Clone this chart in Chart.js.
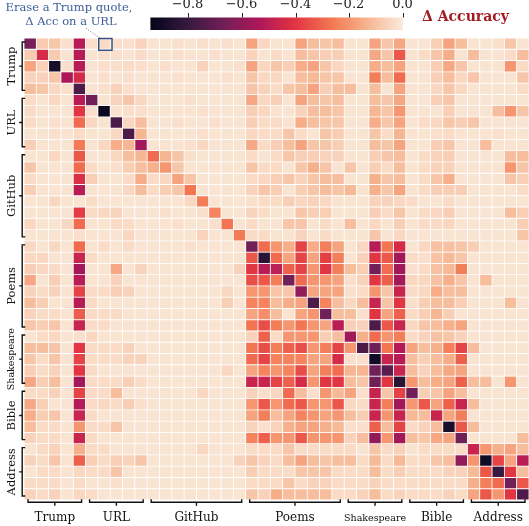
<!DOCTYPE html>
<html><head><meta charset="utf-8">
<script src="https://cdn.jsdelivr.net/npm/chart.js@4.4.0/dist/chart.umd.min.js"></script>
<style>html,body{margin:0;padding:0;background:#fff;}canvas{display:block;}</style>
</head><body>
<canvas id="c" width="529" height="526"></canvas>
<script>
// ---------------- DATA ----------------
const groupNames = ['Trump', 'URL', 'GitHub', 'Poems', 'Shakespeare', 'Bible', 'Address'];

const trumpRows = [
[-0.66,-0.08,-0.09,-0.03,-0.51,-0.03,-0.04,-0.03,-0.03,-0.06,-0.02,-0.02,-0.03,-0.02,-0.03,-0.02,-0.03,-0.02,-0.17,-0.05,-0.02,-0.02,-0.17,-0.11,-0.09,-0.11,-0.02,-0.02,-0.17,-0.09,-0.16,-0.02,-0.02,-0.07,-0.17,-0.11,-0.02,-0.02,-0.03,-0.09,-0.02],
[-0.08,-0.44,-0.08,-0.02,-0.51,-0.02,-0.03,-0.03,-0.02,-0.04,-0.02,-0.02,-0.03,-0.02,-0.02,-0.03,-0.02,-0.02,-0.06,-0.02,-0.04,-0.02,-0.11,-0.09,-0.07,-0.07,-0.02,-0.02,-0.16,-0.09,-0.33,-0.02,-0.04,-0.09,-0.15,-0.02,-0.11,-0.02,-0.02,-0.04,-0.11],
[-0.17,-0.06,-0.88,-0.03,-0.51,-0.02,-0.03,-0.03,-0.04,-0.03,-0.02,-0.03,-0.02,-0.02,-0.06,-0.02,-0.02,-0.03,-0.17,-0.05,-0.09,-0.07,-0.15,-0.17,-0.09,-0.05,-0.02,-0.02,-0.15,-0.11,-0.17,-0.02,-0.02,-0.07,-0.16,-0.09,-0.02,-0.02,-0.02,-0.20,-0.04],
[-0.06,-0.06,-0.09,-0.54,-0.44,-0.02,-0.03,-0.02,-0.03,-0.02,-0.02,-0.02,-0.03,-0.02,-0.02,-0.02,-0.03,-0.02,-0.09,-0.05,-0.05,-0.02,-0.11,-0.12,-0.09,-0.09,-0.02,-0.02,-0.25,-0.11,-0.29,-0.02,-0.02,-0.07,-0.11,-0.05,-0.09,-0.02,-0.02,-0.02,-0.09],
[-0.11,-0.09,-0.05,-0.03,-0.75,-0.02,-0.03,-0.06,-0.03,-0.02,-0.02,-0.02,-0.02,-0.02,-0.02,-0.02,-0.02,-0.02,-0.09,-0.06,-0.04,-0.09,-0.11,-0.17,-0.07,-0.11,-0.11,-0.02,-0.11,-0.02,-0.17,-0.02,-0.02,-0.05,-0.09,-0.05,-0.02,-0.02,-0.02,-0.02,-0.04]
];
const urlRows = [
[-0.04,-0.02,-0.05,-0.02,-0.51,-0.67,-0.02,-0.06,-0.09,-0.05,-0.02,-0.02,-0.02,-0.03,-0.02,-0.02,-0.02,-0.02,-0.16,-0.05,-0.07,-0.02,-0.17,-0.11,-0.09,-0.11,-0.02,-0.02,-0.11,-0.09,-0.16,-0.02,-0.02,-0.07,-0.09,-0.02,-0.02,-0.02,-0.02,-0.02,-0.02],
[-0.04,-0.02,-0.02,-0.02,-0.40,-0.03,-0.92,-0.02,-0.03,-0.03,-0.02,-0.02,-0.02,-0.02,-0.03,-0.02,-0.02,-0.02,-0.07,-0.05,-0.02,-0.02,-0.06,-0.11,-0.11,-0.09,-0.02,-0.02,-0.13,-0.09,-0.20,-0.02,-0.02,-0.02,-0.07,-0.02,-0.02,-0.02,-0.11,-0.20,-0.09],
[-0.04,-0.02,-0.03,-0.02,-0.29,-0.05,-0.02,-0.75,-0.05,-0.11,-0.02,-0.02,-0.03,-0.02,-0.02,-0.03,-0.02,-0.02,-0.07,-0.04,-0.04,-0.02,-0.15,-0.11,-0.09,-0.09,-0.02,-0.02,-0.15,-0.09,-0.17,-0.02,-0.04,-0.05,-0.09,-0.07,-0.09,-0.02,-0.02,-0.02,-0.02],
[-0.02,-0.02,-0.03,-0.02,-0.04,-0.02,-0.02,-0.05,-0.75,-0.13,-0.02,-0.02,-0.02,-0.02,-0.03,-0.02,-0.02,-0.02,-0.05,-0.04,-0.04,-0.09,-0.04,-0.02,-0.09,-0.07,-0.02,-0.02,-0.09,-0.04,-0.13,-0.02,-0.02,-0.03,-0.04,-0.02,-0.02,-0.02,-0.03,-0.02,-0.02],
[-0.07,-0.02,-0.02,-0.02,-0.26,-0.02,-0.05,-0.15,-0.13,-0.56,-0.02,-0.02,-0.02,-0.03,-0.05,-0.02,-0.02,-0.02,-0.16,-0.04,-0.07,-0.11,-0.17,-0.09,-0.09,-0.07,-0.02,-0.02,-0.11,-0.09,-0.17,-0.02,-0.02,-0.07,-0.09,-0.02,-0.02,-0.11,-0.02,-0.02,-0.02]
];
const githubRows = [
[-0.02,-0.02,-0.05,-0.02,-0.33,-0.02,-0.02,-0.05,-0.11,-0.13,-0.29,-0.13,-0.09,-0.03,-0.02,-0.02,-0.02,-0.02,-0.04,-0.02,-0.04,-0.09,-0.07,-0.07,-0.06,-0.06,-0.02,-0.02,-0.07,-0.09,-0.11,-0.02,-0.04,-0.06,-0.07,-0.02,-0.02,-0.02,-0.02,-0.11,-0.11],
[-0.09,-0.02,-0.02,-0.02,-0.29,-0.04,-0.02,-0.03,-0.07,-0.11,-0.14,-0.20,-0.09,-0.02,-0.02,-0.02,-0.02,-0.02,-0.09,-0.04,-0.04,-0.02,-0.09,-0.14,-0.09,-0.02,-0.09,-0.02,-0.07,-0.04,-0.11,-0.02,-0.04,-0.06,-0.06,-0.02,-0.02,-0.02,-0.02,-0.20,-0.09],
[-0.04,-0.02,-0.02,-0.02,-0.42,-0.07,-0.02,-0.02,-0.04,-0.15,-0.04,-0.05,-0.17,-0.09,-0.02,-0.02,-0.02,-0.02,-0.04,-0.05,-0.07,-0.09,-0.06,-0.09,-0.11,-0.11,-0.02,-0.02,-0.14,-0.09,-0.11,-0.02,-0.04,-0.09,-0.14,-0.02,-0.02,-0.02,-0.02,-0.09,-0.07],
[-0.07,-0.02,-0.02,-0.02,-0.51,-0.02,-0.02,-0.02,-0.05,-0.11,-0.04,-0.07,-0.09,-0.27,-0.02,-0.02,-0.02,-0.02,-0.06,-0.09,-0.07,-0.02,-0.07,-0.09,-0.11,-0.09,-0.12,-0.02,-0.14,-0.09,-0.17,-0.02,-0.04,-0.07,-0.07,-0.07,-0.02,-0.02,-0.02,-0.02,-0.04],
[-0.02,-0.02,-0.05,-0.02,-0.02,-0.04,-0.02,-0.02,-0.02,-0.02,-0.02,-0.02,-0.02,-0.05,-0.25,-0.02,-0.02,-0.02,-0.03,-0.04,-0.04,-0.07,-0.05,-0.06,-0.05,-0.02,-0.02,-0.02,-0.06,-0.06,-0.05,-0.04,-0.02,-0.02,-0.04,-0.02,-0.02,-0.02,-0.02,-0.02,-0.02],
[-0.02,-0.02,-0.02,-0.02,-0.39,-0.04,-0.05,-0.06,-0.02,-0.02,-0.02,-0.03,-0.02,-0.02,-0.03,-0.24,-0.02,-0.02,-0.06,-0.04,-0.02,-0.02,-0.09,-0.07,-0.07,-0.02,-0.02,-0.02,-0.07,-0.04,-0.09,-0.02,-0.04,-0.05,-0.07,-0.02,-0.02,-0.02,-0.02,-0.11,-0.07],
[-0.05,-0.02,-0.02,-0.05,-0.29,-0.02,-0.02,-0.04,-0.04,-0.02,-0.02,-0.02,-0.03,-0.02,-0.02,-0.03,-0.27,-0.02,-0.04,-0.02,-0.02,-0.09,-0.09,-0.02,-0.04,-0.02,-0.11,-0.02,-0.05,-0.02,-0.07,-0.02,-0.04,-0.04,-0.05,-0.02,-0.02,-0.02,-0.02,-0.02,-0.07],
[-0.02,-0.02,-0.02,-0.02,-0.03,-0.02,-0.02,-0.02,-0.05,-0.02,-0.02,-0.02,-0.02,-0.02,-0.06,-0.02,-0.02,-0.26,-0.04,-0.04,-0.02,-0.02,-0.06,-0.02,-0.04,-0.02,-0.02,-0.02,-0.09,-0.02,-0.05,-0.02,-0.02,-0.02,-0.02,-0.02,-0.02,-0.02,-0.02,-0.02,-0.09]
];
const poemsRows = [
[-0.05,-0.02,-0.05,-0.02,-0.29,-0.02,-0.04,-0.02,-0.04,-0.02,-0.02,-0.02,-0.02,-0.03,-0.02,-0.02,-0.02,-0.02,-0.67,-0.29,-0.20,-0.15,-0.37,-0.15,-0.25,-0.17,-0.02,-0.05,-0.51,-0.27,-0.44,-0.02,-0.05,-0.10,-0.10,-0.09,-0.07,-0.02,-0.02,-0.02,-0.02],
[-0.05,-0.05,-0.02,-0.02,-0.47,-0.04,-0.02,-0.02,-0.02,-0.02,-0.02,-0.02,-0.02,-0.02,-0.02,-0.02,-0.02,-0.02,-0.33,-0.84,-0.29,-0.17,-0.37,-0.17,-0.38,-0.25,-0.02,-0.06,-0.40,-0.33,-0.56,-0.04,-0.03,-0.10,-0.12,-0.09,-0.02,-0.02,-0.02,-0.02,-0.02],
[-0.07,-0.05,-0.04,-0.02,-0.56,-0.02,-0.02,-0.16,-0.02,-0.06,-0.02,-0.02,-0.02,-0.02,-0.02,-0.02,-0.02,-0.06,-0.40,-0.51,-0.50,-0.31,-0.37,-0.20,-0.40,-0.25,-0.11,-0.07,-0.67,-0.29,-0.56,-0.03,-0.04,-0.10,-0.12,-0.25,-0.02,-0.02,-0.02,-0.02,-0.02],
[-0.16,-0.02,-0.07,-0.02,-0.51,-0.02,-0.02,-0.06,-0.02,-0.02,-0.02,-0.02,-0.02,-0.02,-0.02,-0.02,-0.02,-0.02,-0.35,-0.33,-0.25,-0.67,-0.29,-0.20,-0.20,-0.17,-0.03,-0.06,-0.40,-0.31,-0.56,-0.05,-0.05,-0.10,-0.14,-0.09,-0.02,-0.11,-0.02,-0.02,-0.02],
[-0.06,-0.04,-0.06,-0.02,-0.37,-0.04,-0.04,-0.07,-0.06,-0.02,-0.02,-0.02,-0.02,-0.02,-0.02,-0.02,-0.05,-0.02,-0.20,-0.20,-0.09,-0.09,-0.60,-0.17,-0.17,-0.17,-0.03,-0.04,-0.20,-0.09,-0.47,-0.04,-0.05,-0.15,-0.11,-0.11,-0.02,-0.02,-0.02,-0.02,-0.02],
[-0.11,-0.07,-0.02,-0.02,-0.51,-0.04,-0.02,-0.02,-0.02,-0.02,-0.02,-0.02,-0.02,-0.02,-0.02,-0.02,-0.07,-0.02,-0.24,-0.24,-0.11,-0.15,-0.17,-0.75,-0.24,-0.11,-0.05,-0.11,-0.47,-0.09,-0.40,-0.03,-0.07,-0.11,-0.11,-0.07,-0.02,-0.02,-0.02,-0.11,-0.02],
[-0.06,-0.04,-0.04,-0.02,-0.32,-0.04,-0.04,-0.04,-0.02,-0.02,-0.02,-0.02,-0.02,-0.02,-0.02,-0.02,-0.02,-0.02,-0.17,-0.22,-0.11,-0.02,-0.17,-0.20,-0.67,-0.11,-0.11,-0.03,-0.40,-0.17,-0.31,-0.04,-0.07,-0.13,-0.07,-0.02,-0.02,-0.02,-0.02,-0.02,-0.02],
[-0.09,-0.07,-0.09,-0.02,-0.47,-0.04,-0.04,-0.02,-0.02,-0.02,-0.02,-0.02,-0.02,-0.02,-0.02,-0.02,-0.02,-0.02,-0.27,-0.35,-0.25,-0.20,-0.27,-0.20,-0.17,-0.51,-0.07,-0.06,-0.75,-0.33,-0.47,-0.05,-0.09,-0.11,-0.14,-0.17,-0.02,-0.02,-0.02,-0.02,-0.02]
];
const shakespeareRows = [
[-0.02,-0.04,-0.05,-0.02,-0.03,-0.05,-0.02,-0.02,-0.02,-0.02,-0.02,-0.02,-0.02,-0.02,-0.02,-0.02,-0.02,-0.02,-0.06,-0.31,-0.04,-0.20,-0.20,-0.20,-0.07,-0.11,-0.56,-0.14,-0.29,-0.20,-0.25,-0.04,-0.06,-0.10,-0.09,-0.06,-0.02,-0.02,-0.02,-0.02,-0.02],
[-0.11,-0.11,-0.09,-0.02,-0.40,-0.04,-0.04,-0.04,-0.06,-0.02,-0.02,-0.02,-0.02,-0.02,-0.02,-0.02,-0.02,-0.02,-0.27,-0.35,-0.25,-0.31,-0.35,-0.20,-0.25,-0.37,-0.20,-0.75,-0.67,-0.27,-0.52,-0.17,-0.11,-0.14,-0.25,-0.37,-0.11,-0.02,-0.02,-0.02,-0.02],
[-0.09,-0.04,-0.09,-0.02,-0.37,-0.04,-0.04,-0.04,-0.06,-0.06,-0.02,-0.02,-0.02,-0.02,-0.02,-0.02,-0.02,-0.02,-0.29,-0.37,-0.24,-0.24,-0.24,-0.17,-0.17,-0.44,-0.03,-0.03,-0.90,-0.47,-0.51,-0.11,-0.07,-0.11,-0.15,-0.31,-0.02,-0.02,-0.02,-0.02,-0.02],
[-0.07,-0.04,-0.06,-0.02,-0.40,-0.04,-0.02,-0.02,-0.02,-0.02,-0.02,-0.02,-0.02,-0.02,-0.02,-0.02,-0.05,-0.02,-0.17,-0.24,-0.20,-0.24,-0.35,-0.17,-0.25,-0.29,-0.13,-0.13,-0.67,-0.72,-0.47,-0.11,-0.06,-0.11,-0.16,-0.17,-0.02,-0.02,-0.02,-0.02,-0.02],
[-0.16,-0.07,-0.11,-0.02,-0.56,-0.04,-0.04,-0.04,-0.07,-0.04,-0.02,-0.02,-0.02,-0.02,-0.02,-0.02,-0.02,-0.02,-0.47,-0.47,-0.37,-0.31,-0.44,-0.20,-0.40,-0.40,-0.11,-0.09,-0.67,-0.40,-0.84,-0.20,-0.11,-0.15,-0.17,-0.31,-0.11,-0.11,-0.02,-0.20,-0.02]
];
const bibleRows = [
[-0.04,-0.04,-0.06,-0.02,-0.37,-0.04,-0.04,-0.11,-0.02,-0.02,-0.02,-0.02,-0.02,-0.02,-0.05,-0.02,-0.02,-0.02,-0.06,-0.03,-0.05,-0.29,-0.11,-0.03,-0.20,-0.12,-0.17,-0.03,-0.47,-0.09,-0.37,-0.67,-0.07,-0.09,-0.17,-0.11,-0.02,-0.02,-0.02,-0.02,-0.02],
[-0.16,-0.07,-0.02,-0.02,-0.52,-0.04,-0.05,-0.04,-0.07,-0.03,-0.02,-0.02,-0.02,-0.02,-0.02,-0.02,-0.02,-0.02,-0.20,-0.33,-0.20,-0.29,-0.33,-0.20,-0.20,-0.33,-0.05,-0.04,-0.47,-0.25,-0.56,-0.20,-0.33,-0.17,-0.31,-0.47,-0.11,-0.02,-0.02,-0.02,-0.02],
[-0.15,-0.07,-0.09,-0.02,-0.47,-0.04,-0.02,-0.02,-0.02,-0.02,-0.02,-0.02,-0.02,-0.02,-0.02,-0.02,-0.02,-0.02,-0.17,-0.25,-0.11,-0.17,-0.24,-0.20,-0.17,-0.20,-0.11,-0.07,-0.47,-0.20,-0.47,-0.12,-0.11,-0.47,-0.17,-0.25,-0.02,-0.02,-0.02,-0.02,-0.02],
[-0.11,-0.04,-0.04,-0.02,-0.20,-0.04,-0.04,-0.09,-0.02,-0.02,-0.02,-0.02,-0.02,-0.02,-0.02,-0.02,-0.02,-0.02,-0.06,-0.03,-0.06,-0.14,-0.17,-0.17,-0.14,-0.12,-0.03,-0.03,-0.31,-0.11,-0.37,-0.04,-0.06,-0.11,-0.88,-0.33,-0.11,-0.02,-0.02,-0.02,-0.02],
[-0.06,-0.04,-0.04,-0.02,-0.47,-0.04,-0.02,-0.02,-0.02,-0.02,-0.02,-0.02,-0.02,-0.02,-0.02,-0.02,-0.02,-0.02,-0.24,-0.31,-0.20,-0.20,-0.33,-0.20,-0.20,-0.20,-0.06,-0.11,-0.60,-0.20,-0.56,-0.11,-0.09,-0.16,-0.17,-0.67,-0.02,-0.02,-0.02,-0.02,-0.11]
];
const addressRows = [
[-0.02,-0.04,-0.06,-0.02,-0.14,-0.04,-0.04,-0.02,-0.02,-0.02,-0.02,-0.02,-0.02,-0.02,-0.05,-0.02,-0.02,-0.02,-0.04,-0.04,-0.04,-0.09,-0.04,-0.04,-0.04,-0.04,-0.04,-0.02,-0.09,-0.04,-0.06,-0.02,-0.04,-0.04,-0.04,-0.04,-0.47,-0.20,-0.14,-0.17,-0.11],
[-0.06,-0.04,-0.09,-0.02,-0.31,-0.07,-0.04,-0.07,-0.06,-0.09,-0.02,-0.02,-0.02,-0.02,-0.02,-0.02,-0.02,-0.06,-0.09,-0.06,-0.04,-0.11,-0.17,-0.11,-0.09,-0.11,-0.11,-0.04,-0.12,-0.04,-0.12,-0.04,-0.04,-0.09,-0.11,-0.60,-0.20,-0.90,-0.37,-0.17,-0.51],
[-0.02,-0.04,-0.04,-0.02,-0.05,-0.04,-0.04,-0.09,-0.02,-0.02,-0.02,-0.02,-0.02,-0.02,-0.02,-0.02,-0.02,-0.02,-0.07,-0.04,-0.04,-0.04,-0.09,-0.09,-0.09,-0.04,-0.04,-0.04,-0.11,-0.04,-0.07,-0.04,-0.04,-0.04,-0.06,-0.06,-0.12,-0.33,-0.80,-0.40,-0.11],
[-0.04,-0.04,-0.04,-0.02,-0.04,-0.02,-0.02,-0.03,-0.02,-0.02,-0.02,-0.02,-0.02,-0.02,-0.02,-0.02,-0.02,-0.02,-0.04,-0.04,-0.04,-0.09,-0.04,-0.06,-0.06,-0.04,-0.04,-0.04,-0.06,-0.04,-0.04,-0.04,-0.04,-0.04,-0.04,-0.04,-0.14,-0.25,-0.29,-0.67,-0.33],
[-0.06,-0.04,-0.06,-0.02,-0.05,-0.04,-0.02,-0.02,-0.02,-0.02,-0.02,-0.02,-0.02,-0.02,-0.02,-0.02,-0.02,-0.02,-0.09,-0.06,-0.15,-0.11,-0.11,-0.11,-0.11,-0.04,-0.04,-0.06,-0.11,-0.04,-0.06,-0.04,-0.04,-0.04,-0.06,-0.04,-0.17,-0.33,-0.20,-0.40,-0.75]
];

const colorbarTicks = [-0.8, -0.6, -0.4, -0.2, 0.0];
const colorbarTickLabels = ['\u22120.8', '\u22120.6', '\u22120.4', '\u22120.2', '0.0'];
const colorMin = -0.94, colorMax = 0.0;
const colorbarTitle = '\u0394 Accuracy';
const annotationLines = ['Erase a Trump quote,', '\u0394 Acc on a URL'];
const annotationCell = { row: 0, col: 6 };

// ---------------- BUILD ----------------
const groupRows = [trumpRows, urlRows, githubRows, poemsRows, shakespeareRows, bibleRows, addressRows];
const matrix = [].concat(...groupRows);
const N = matrix.length;
const colLabels = matrix[0].map((_, i) => String(i));

const rocketStops = [
  [0.000, [3, 5, 26]],
  [0.143, [53, 25, 62]],
  [0.286, [112, 31, 87]],
  [0.429, [173, 23, 89]],
  [0.571, [225, 51, 66]],
  [0.714, [243, 118, 81]],
  [0.857, [246, 180, 143]],
  [1.000, [250, 235, 221]]
];
function rocket(t) {
  t = Math.max(0, Math.min(1, t));
  for (let i = 1; i < rocketStops.length; i++) {
    const [t1, c1] = rocketStops[i];
    const [t0, c0] = rocketStops[i - 1];
    if (t <= t1) {
      const f = (t - t0) / (t1 - t0);
      const c = c0.map((v, k) => Math.round(v + (c1[k] - v) * f));
      return `rgb(${c[0]},${c[1]},${c[2]})`;
    }
  }
  return 'rgb(250,235,221)';
}
const colorOf = v => rocket((v - colorMin) / (colorMax - colorMin));

const datasets = matrix.map((row, r) => ({
  data: row.map(() => [r, r + 1]),
  backgroundColor: row.map(colorOf),
  borderColor: '#ffffff',
  borderWidth: 0.75,
  borderSkipped: false,
  grouped: false,
  barPercentage: 1,
  categoryPercentage: 1
}));

const SERIF = '"DejaVu Serif", "Liberation Serif", serif';

const overlay = {
  id: 'overlay',
  afterDraw(chart) {
    const ctx = chart.ctx;
    const xs = chart.scales.x, ys = chart.scales.y;
    const half = (xs.getPixelForValue(1) - xs.getPixelForValue(0)) / 2;
    const colL = c => xs.getPixelForValue(c) - half;
    const colR = c => xs.getPixelForValue(c) + half;
    const rowT = r => ys.getPixelForValue(r);
    const rowB = r => ys.getPixelForValue(r + 1);

    ctx.save();
    ctx.strokeStyle = '#111';
    ctx.fillStyle = '#111';
    ctx.lineWidth = 1.4;
    let start = 0;
    groupRows.forEach((g, gi) => {
      const end = start + g.length - 1;
      // left bracket
      const t = rowT(start) + 4, b = rowB(end) - 4, xL = 22.2;
      const mid = (t + b) / 2;
      ctx.beginPath();
      ctx.moveTo(xL + 3, t); ctx.lineTo(xL, t); ctx.lineTo(xL, b); ctx.lineTo(xL + 3, b);
      ctx.moveTo(xL, mid); ctx.lineTo(xL - 3, mid);
      ctx.stroke();
      // left label
      const fs = groupNames[gi] === 'Shakespeare' ? 9.5 : 11.5;
      ctx.save();
      ctx.translate(12, mid);
      ctx.rotate(-Math.PI / 2);
      ctx.font = `${fs}px ${SERIF}`;
      ctx.textAlign = 'center';
      ctx.textBaseline = 'middle';
      ctx.fillText(groupNames[gi], 0, 0);
      ctx.restore();
      // bottom bracket
      const l = colL(start) + 4, r = colR(end) - 4, yB = 502.3;
      const cx = (l + r) / 2;
      ctx.beginPath();
      ctx.moveTo(l, yB - 3); ctx.lineTo(l, yB); ctx.lineTo(r, yB); ctx.lineTo(r, yB - 3);
      ctx.moveTo(cx, yB); ctx.lineTo(cx, yB + 3.5);
      ctx.stroke();
      ctx.font = `${groupNames[gi] === 'Shakespeare' ? 9.5 : 12}px ${SERIF}`;
      ctx.textAlign = 'center';
      ctx.textBaseline = 'alphabetic';
      ctx.fillText(groupNames[gi], cx, 521);
      start = end + 1;
    });

    // annotation
    ctx.fillStyle = '#3d5d98';
    ctx.font = `11.5px ${SERIF}`;
    ctx.textAlign = 'center';
    ctx.textBaseline = 'alphabetic';
    ctx.fillText(annotationLines[0], 69, 11);
    ctx.fillText(annotationLines[1], 71, 24.5);
    const bx0 = colL(annotationCell.col) + 0.8, bx1 = colR(annotationCell.col) + 1.8;
    const by0 = rowT(annotationCell.row) + 0.5, by1 = rowB(annotationCell.row) + 1;
    ctx.strokeStyle = '#2e4f8c';
    ctx.lineWidth = 1.4;
    ctx.strokeRect(bx0, by0, bx1 - bx0, by1 - by0);
    ctx.setLineDash([1, 1.6]);
    ctx.lineWidth = 0.9;
    ctx.strokeStyle = '#5a6f98';
    ctx.beginPath();
    ctx.moveTo(86, 28.5); ctx.lineTo(bx0 + 1.5, by0 - 0.5);
    ctx.stroke();
    ctx.setLineDash([]);

    // colorbar
    const cbL = 150.4, cbR = 403, cbT = 17.5, cbB = 30;
    const v2x = v => cbL + (v - colorMin) / (colorMax - colorMin) * (cbR - cbL);
    const grad = ctx.createLinearGradient(cbL, 0, cbR, 0);
    for (let i = 0; i <= 40; i++) grad.addColorStop(i / 40, rocket(i / 40));
    ctx.fillStyle = grad;
    ctx.fillRect(cbL, cbT, cbR - cbL, cbB - cbT);
    ctx.strokeStyle = '#222';
    ctx.lineWidth = 1;
    ctx.fillStyle = '#222';
    ctx.font = `13px ${SERIF}`;
    ctx.textAlign = 'center';
    ctx.textBaseline = 'alphabetic';
    colorbarTicks.forEach((v, i) => {
      const x = Math.round(v2x(v)) + 0.5;
      ctx.beginPath(); ctx.moveTo(x, cbT - 4.5); ctx.lineTo(x, cbT); ctx.stroke();
      ctx.fillText(colorbarTickLabels[i], x - 1, 7.5);
    });
    ctx.fillStyle = '#a31b22';
    ctx.font = `bold 14px ${SERIF}`;
    ctx.textAlign = 'left';
    ctx.fillText(colorbarTitle, 422, 21);
    ctx.restore();
  }
};

new Chart(document.getElementById('c'), {
  type: 'bar',
  data: { labels: colLabels, datasets },
  options: {
    responsive: false,
    animation: false,
    devicePixelRatio: 1,
    layout: { padding: { left: 24, right: 0, top: 38, bottom: 26 } },
    scales: {
      x: { type: 'category', display: false, offset: true, grid: { display: false } },
      y: { type: 'linear', display: false, min: 0, max: N, reverse: true, stacked: false }
    },
    plugins: { legend: { display: false }, tooltip: { enabled: false } }
  },
  plugins: [overlay]
});
</script>
</body></html>
